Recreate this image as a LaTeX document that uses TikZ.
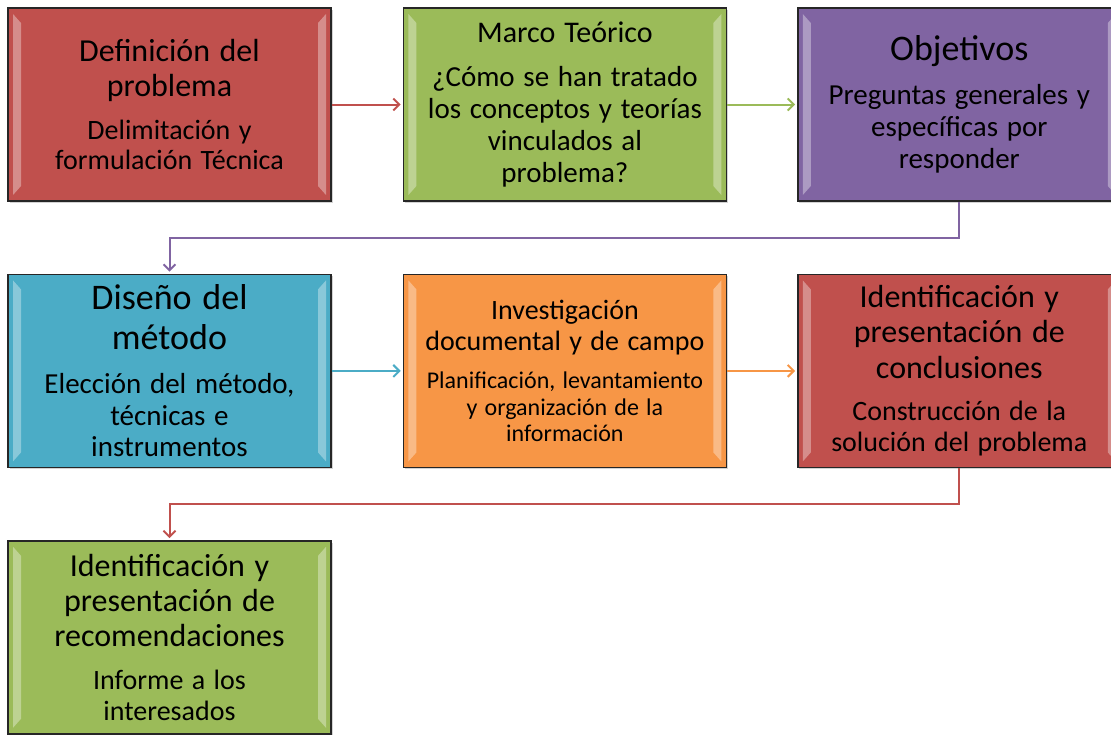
\documentclass[tikz,border=0pt]{standalone}
\usepackage{fontspec}
\setmainfont{Carlito}
\usepackage{xcolor}
\usetikzlibrary{positioning,arrows.meta,shadows}

\definecolor{rojo}{HTML}{C0504D}
\definecolor{verde}{HTML}{9BBB59}
\definecolor{morado}{HTML}{8064A2}
\definecolor{azul}{HTML}{4BACC6}
\definecolor{naranja}{HTML}{F79646}

% title and subtitle of a box
\newcommand{\boxtext}[4]{%
  {\fontsize{#1}{\fpeval{1.1*#1}}\selectfont\spaceskip=.3em\relax #2\par}%
  \vspace{12pt}%
  {\fontsize{#3}{\fpeval{1.1*#3}}\selectfont\spaceskip=.3em\relax #4\par}}

\begin{document}
\begin{tikzpicture}[auto,
        block/.style={draw=black!85, line width=1.4pt, rectangle, minimum width=323pt, minimum height=193pt,
            text width=316pt, inner sep=0pt, align=center,
            drop shadow={shadow xshift=1.5pt, shadow yshift=-2pt, opacity=.35},
            path picture={
                \fill[white, opacity=.35] ([shift={(5pt,6pt)}]path picture bounding box.south west)
                    -- ([shift={(5pt,-6pt)}]path picture bounding box.north west)
                    -- ([shift={(13pt,-15pt)}]path picture bounding box.north west)
                    -- ([shift={(13pt,15pt)}]path picture bounding box.south west) -- cycle;
                \fill[white, opacity=.35] ([shift={(-5pt,6pt)}]path picture bounding box.south east)
                    -- ([shift={(-5pt,-6pt)}]path picture bounding box.north east)
                    -- ([shift={(-13pt,-15pt)}]path picture bounding box.north east)
                    -- ([shift={(-13pt,15pt)}]path picture bounding box.south east) -- cycle;
            }},
        flow/.style={line width=2pt, shorten >=2pt},
        >={Straight Barb[length=6pt,width=12pt]}
    ]
        \useasboundingbox (0,0) rectangle (1111pt,-734pt);

        % First row
        \node [block, fill=rojo] (def) at (169.5pt,-104.5pt)
            {\boxtext{32}{Definición del\\problema}{28}{Delimitación y\\formulación Técnica}};
        \node [block, fill=verde, right=71pt of def] (marco)
            {\boxtext{30}{Marco Teórico}{29}{¿Cómo se han tratado\\los conceptos y teorías\\vinculados al\\problema?}};
        \node [block, fill=morado, right=70pt of marco] (obj)
            {\boxtext{36}{Objetivos}{29}{Preguntas generales y\\específicas por\\responder}};

        % Second row
        \node [block, fill=azul, below=72pt of def] (dis)
            {\boxtext{36}{Diseño del\\método}{29}{Elección del método,\\técnicas e\\instrumentos}};
        \node [block, fill=naranja, right=71pt of dis] (inv)
            {\boxtext{28}{Investigación\\documental y de campo}{24}{Planificación, levantamiento\\y organización de la\\información}};
        \node [block, fill=rojo, right=70pt of inv] (concl)
            {\boxtext{32}{Identificación y\\presentación de\\conclusiones}{28}{Construcción de la\\solución del problema}};

        % Third row
        \node [block, fill=verde, below=72pt of dis] (recom)
            {\boxtext{32}{Identificación y\\presentación de\\recomendaciones}{28}{Informe a los\\interesados}};

        \draw[flow, rojo, ->] (def) -- (marco);
        \draw[flow, verde, ->] (marco) -- (obj);
        \draw[flow, morado, ->] (obj.south) -- ++(0,-36pt) -| (dis.north);

        \draw[flow, azul, ->] (dis) -- (inv);
        \draw[flow, naranja, ->] (inv) -- (concl);
        \draw[flow, rojo, ->] (concl.south) -- ++(0,-36pt) -| (recom.north);

    \end{tikzpicture}
\end{document}
